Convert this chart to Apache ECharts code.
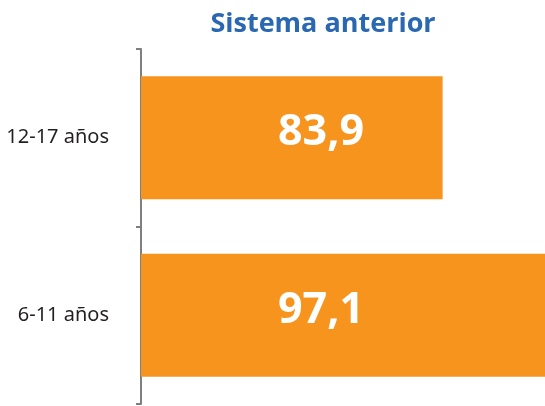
<!DOCTYPE html>
<html>
<head>
<meta charset="utf-8">
<script src="https://cdn.jsdelivr.net/npm/echarts@6/dist/echarts.min.js"></script>
<style>html,body{margin:0;padding:0;background:#fff}#c{width:545px;height:406px}</style>
</head>
<body>
<div id="c"></div>
<script>
const title = 'Sistema anterior';
const categories = ['6-11 años', '12-17 años'];
const values = [97.1, 83.9];

const chart = echarts.init(document.getElementById('c'));
chart.setOption({
  animation: false,
  title: {
    text: title,
    left: 318,
    textAlign: 'center',
    top: 6,
    textStyle: {
      fontFamily: '"Open Sans", sans-serif',
      fontWeight: 'bold',
      fontSize: 27,
      color: '#2a68b1'
    }
  },
  grid: { left: 141, right: 0, top: 49, bottom: 2 },
  xAxis: {
    type: 'value',
    min: 45,
    max: 97.1,
    show: false
  },
  yAxis: {
    type: 'category',
    data: categories,
    axisLine: { show: true, lineStyle: { color: '#7f7f7f', width: 2 } },
    axisTick: { show: true, length: 5, lineStyle: { color: '#7f7f7f', width: 2 } },
    axisLabel: {
      margin: 32,
      fontFamily: '"Noto Sans", sans-serif',
      fontSize: 20,
      color: '#231f20'
    }
  },
  series: [{
    type: 'bar',
    data: values,
    barCategoryGap: '30.7%',
    itemStyle: { color: '#f7941e' },
    label: {
      show: true,
      position: [137, '50%'],
      align: 'left',
      verticalAlign: 'middle',
      offset: [0, -5],
      formatter: p => String(p.value).replace('.', ','),
      fontFamily: '"Open Sans", sans-serif',
      fontWeight: 'bold',
      fontSize: 43,
      color: '#ffffff'
    }
  }]
});
</script>
</body>
</html>
